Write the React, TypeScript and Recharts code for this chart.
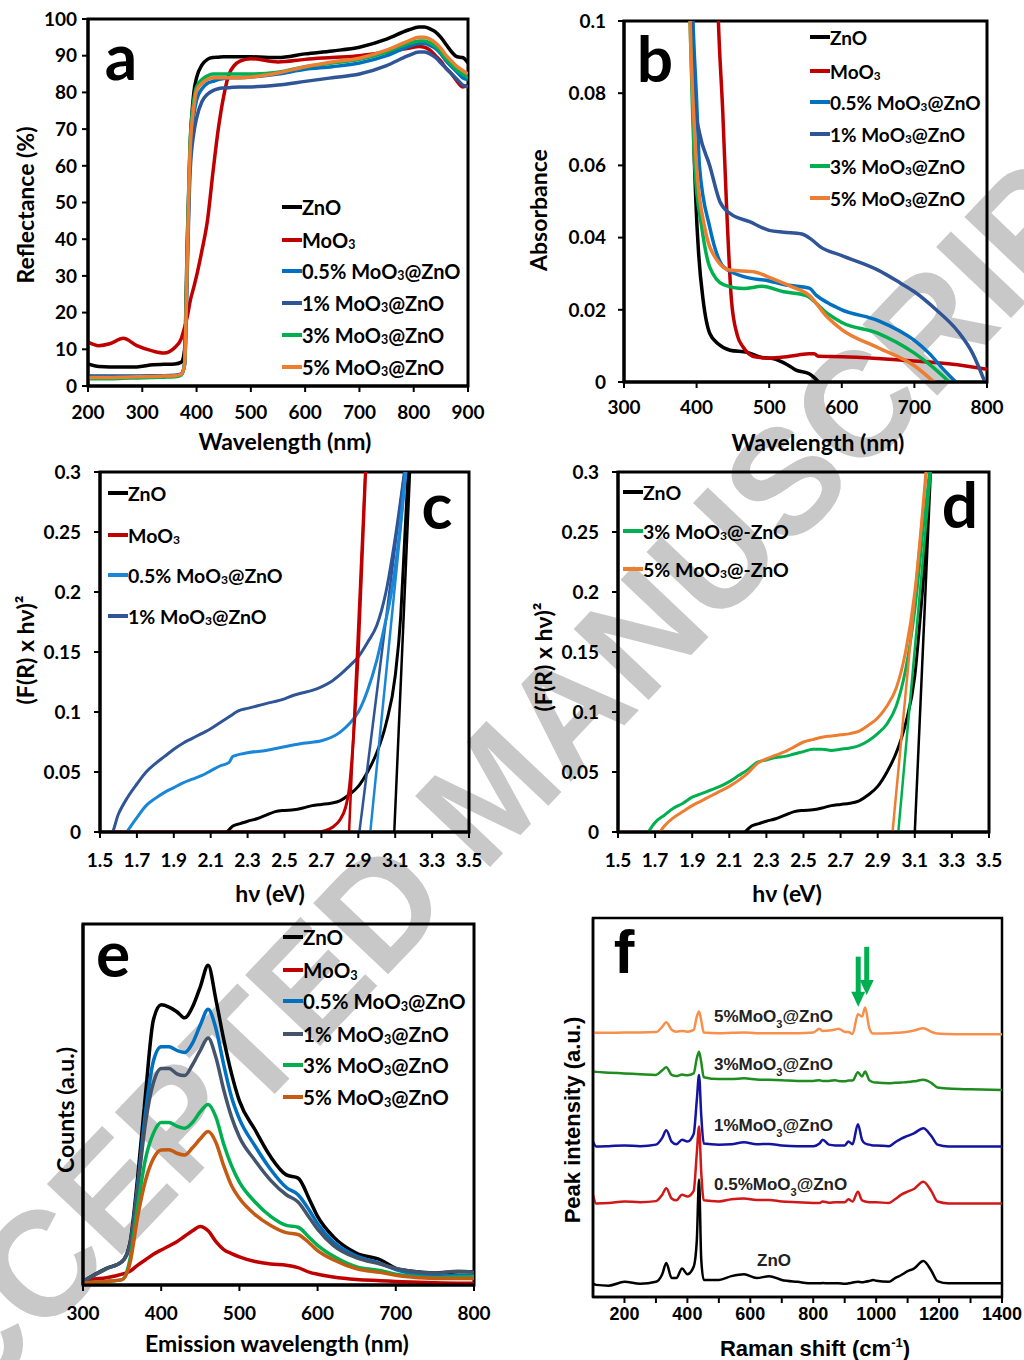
import React from "react"
import { LineChart, Line, XAxis, YAxis, ReferenceArea, ReferenceLine, ReferenceDot } from "recharts"

const LATO = "Lato, 'Open Sans', sans-serif"
const ARIAL = "'Liberation Sans', Arial, sans-serif"

const names = ["ZnO", "MoO₃", "0.5% MoO₃@ZnO", "1% MoO₃@ZnO", "3% MoO₃@ZnO", "5% MoO₃@ZnO"]
const colors = ["#000000", "#c00000", "#0070c0", "#2f5597", "#00b050", "#ed7d31"]
const colorsC = ["#000000", "#c00000", "#1a86d8", "#2f5597"]
const colorsE = ["#000000", "#c00000", "#0070c0", "#44546a", "#00b050", "#c55a11"]

// (a) reflectance
const aWavelength = [200, 220, 240, 265, 290, 320, 340, 360, 372, 378, 383, 388, 395, 400, 410, 420, 430, 440, 450, 460, 480, 500, 550, 600, 650, 700, 750, 790, 810, 820, 830, 840, 850, 860, 870, 880, 890, 900]
const aZnO = [6, 5.3, 5.2, 5.2, 5.2, 5.8, 5.9, 6, 6.5, 10, 40, 65, 80, 84, 87.5, 89, 89.5, 89.6, 89.7, 89.7, 89.7, 89.7, 89.5, 90.5, 91.3, 92.3, 94.5, 97, 97.8, 97.8, 97.3, 96.5, 95, 93, 91, 89.7, 89.5, 88]
const aMoO3 = [12, 11, 11.5, 13, 11, 9.5, 9, 10.5, 13, 16, 19, 23, 27, 30, 37, 45, 58, 70, 79, 85, 88.5, 89.2, 88.3, 89, 89.5, 90, 91, 92, 92.5, 92.3, 91.5, 90, 88.5, 86.5, 85, 83, 81.5, 82]
const a05 = [2.8, 2.7, 2.7, 2.7, 2.7, 2.8, 2.8, 2.9, 3.3, 6, 35, 62, 74, 78, 81, 82.5, 83, 83.5, 83.8, 84, 84, 84.2, 85, 86.3, 87, 88, 90, 92.5, 93.3, 93.3, 92.8, 92, 90.5, 88.5, 87, 85.5, 84, 83.5]
const a1 = [2.6, 2.6, 2.6, 2.6, 2.6, 2.7, 2.7, 2.8, 3.2, 6, 32, 58, 69, 73, 77.5, 79.5, 80.5, 81, 81.2, 81.3, 81.5, 81.5, 82, 83, 84, 85, 87.3, 90, 91, 91, 90.5, 89.5, 88, 86.5, 85, 83.5, 82, 81.5]
const a3 = [2, 2, 2, 2.1, 2.2, 2.3, 2.4, 2.5, 3, 6, 38, 66, 78, 81.5, 83.5, 84.5, 85, 85, 85, 85, 85, 85, 85.5, 87, 88, 89, 91, 93.3, 94, 94, 93.5, 92.5, 91, 89, 87.5, 86, 85, 84]
const a5 = [2.3, 2.3, 2.3, 2.4, 2.5, 2.6, 2.7, 2.8, 3.2, 6, 36, 64, 76, 80.5, 82.5, 83.5, 84, 84, 84, 84, 84, 84.2, 85.3, 87, 88.3, 89.3, 91.5, 94, 95, 95, 94.5, 93.5, 92, 90, 88.5, 87, 86, 85]
const aTicksX = [200, 300, 400, 500, 600, 700, 800, 900]
const aTicksY = [0, 10, 20, 30, 40, 50, 60, 70, 80, 90, 100]

// (b) absorbance
const bZnOX = [390, 394, 396, 399, 403, 409, 418, 430, 446, 470, 490, 505, 515, 525, 537, 555, 562, 568]
const bZnOY = [0.13, 0.1, 0.07, 0.05, 0.035, 0.0227, 0.0135, 0.0105, 0.0088, 0.0082, 0.0068, 0.0065, 0.0058, 0.0048, 0.0033, 0.0023, 0.0012, 0]
const bMoO3X = [427, 430, 436, 441, 448, 456, 464, 472, 482, 500, 520, 540, 555, 562, 568, 600, 650, 700, 750, 800]
const bMoO3Y = [0.12, 0.1, 0.075, 0.05, 0.0227, 0.013, 0.0097, 0.0078, 0.0069, 0.0066, 0.0069, 0.0075, 0.0078, 0.0078, 0.0071, 0.007, 0.0065, 0.0058, 0.005, 0.0035]
const b05X = [392, 395, 400, 404, 418, 437, 465, 500, 520, 555, 565, 580, 600, 650, 700, 720, 740, 757]
const b05Y = [0.12, 0.1, 0.078, 0.0596, 0.043, 0.0319, 0.0292, 0.028, 0.027, 0.026, 0.024, 0.022, 0.02, 0.017, 0.0115, 0.008, 0.0035, 0]
const b1X = [391, 393, 397, 404, 418, 432, 446, 473, 500, 520, 545, 558, 570, 600, 650, 680, 700, 730, 760, 780, 797]
const b1Y = [0.12, 0.1, 0.078, 0.069, 0.06, 0.05, 0.0467, 0.0444, 0.042, 0.0415, 0.041, 0.0395, 0.0375, 0.035, 0.031, 0.0275, 0.025, 0.02, 0.014, 0.008, 0]
const b3X = [389, 391, 394, 397.5, 407, 418, 437, 465, 490, 520, 550, 580, 600, 650, 700, 720, 748]
const b3Y = [0.12, 0.1, 0.078, 0.0596, 0.043, 0.0319, 0.027, 0.0259, 0.0265, 0.025, 0.024, 0.019, 0.0165, 0.0135, 0.008, 0.005, 0]
const b5X = [389, 391, 395, 400, 411, 428, 446, 480, 500, 530, 555, 580, 600, 650, 700, 727]
const b5Y = [0.12, 0.1, 0.078, 0.0596, 0.043, 0.0338, 0.031, 0.0305, 0.029, 0.0265, 0.024, 0.018, 0.0145, 0.0095, 0.0045, 0]
const bTicksX = [300, 400, 500, 600, 700, 800]
const bTicksY = [0, 0.02, 0.04, 0.06, 0.08, 0.1]

// (c) Tauc plots
const cZnOX = [2.19, 2.22, 2.26, 2.3, 2.35, 2.4, 2.45, 2.5, 2.55, 2.6, 2.65, 2.7, 2.75, 2.8, 2.85, 2.9, 2.95, 3.0, 3.05, 3.1, 3.13, 3.15, 3.17]
const cZnOY = [0, 0.005, 0.007, 0.009, 0.011, 0.014, 0.017, 0.018, 0.0185, 0.02, 0.022, 0.023, 0.024, 0.026, 0.031, 0.038, 0.05, 0.066, 0.09, 0.13, 0.18, 0.24, 0.3]
const cMoO3X = [1.56, 2.68, 2.72, 2.76, 2.8, 2.83, 2.85, 2.87, 2.9, 2.94]
const cMoO3Y = [0, 0, 0.001, 0.004, 0.01, 0.02, 0.035, 0.07, 0.15, 0.3]
const c05X = [1.645, 1.7, 1.75, 1.8, 1.85, 1.9, 1.95, 2.0, 2.05, 2.1, 2.15, 2.2, 2.22, 2.3, 2.4, 2.5, 2.6, 2.7, 2.8, 2.85, 2.9, 2.95, 3.0, 3.04, 3.08, 3.12, 3.155]
const c05Y = [0, 0.012, 0.022, 0.028, 0.033, 0.037, 0.041, 0.044, 0.047, 0.051, 0.055, 0.058, 0.063, 0.066, 0.068, 0.071, 0.074, 0.076, 0.083, 0.09, 0.1, 0.118, 0.143, 0.17, 0.2, 0.245, 0.3]
const c1X = [1.5, 1.563, 1.6, 1.65, 1.7, 1.75, 1.8, 1.85, 1.9, 1.95, 2.0, 2.05, 2.1, 2.15, 2.2, 2.25, 2.3, 2.35, 2.4, 2.5, 2.55, 2.6, 2.65, 2.7, 2.75, 2.8, 2.85, 2.9, 2.95, 3.0, 3.05, 3.1, 3.15]
const c1Y = [0, 0, 0.015, 0.029, 0.04, 0.05, 0.057, 0.063, 0.069, 0.074, 0.078, 0.082, 0.086, 0.091, 0.096, 0.101, 0.103, 0.105, 0.107, 0.111, 0.114, 0.116, 0.118, 0.121, 0.125, 0.131, 0.138, 0.146, 0.158, 0.172, 0.2, 0.245, 0.3]
// tangent lines: [x at zero, x at 0.3]
const cTanZnO = [3.095, 3.18]
const cTanMoO3 = [2.85, 2.937]
const cTan05 = [2.965, 3.16]
const cTan1 = [2.906, 3.15]
const tanY = [0, 0.3]
const eVTicks = [1.5, 1.7, 1.9, 2.1, 2.3, 2.5, 2.7, 2.9, 3.1, 3.3, 3.5]
const taucTicksY = [0, 0.05, 0.1, 0.15, 0.2, 0.25, 0.3]

// (d)
const dZnOX = [2.185, 2.22, 2.26, 2.3, 2.35, 2.4, 2.45, 2.5, 2.55, 2.6, 2.65, 2.7, 2.75, 2.8, 2.85, 2.9, 2.95, 3.0, 3.05, 3.1, 3.13, 3.16, 3.18]
const dZnOY = [0, 0.005, 0.007, 0.009, 0.011, 0.014, 0.017, 0.018, 0.0185, 0.02, 0.022, 0.023, 0.024, 0.026, 0.031, 0.038, 0.05, 0.066, 0.09, 0.13, 0.18, 0.24, 0.3]
const d3X = [1.663, 1.7, 1.75, 1.8, 1.85, 1.9, 1.95, 2.0, 2.05, 2.1, 2.15, 2.2, 2.25, 2.3, 2.35, 2.4, 2.45, 2.5, 2.55, 2.6, 2.65, 2.7, 2.75, 2.8, 2.85, 2.9, 2.95, 3.0, 3.05, 3.1, 3.15, 3.18]
const d3Y = [0, 0.008, 0.014, 0.02, 0.024, 0.029, 0.032, 0.035, 0.038, 0.042, 0.047, 0.052, 0.058, 0.06, 0.062, 0.063, 0.065, 0.067, 0.069, 0.069, 0.068, 0.069, 0.07, 0.072, 0.076, 0.082, 0.09, 0.105, 0.135, 0.185, 0.26, 0.3]
const d5X = [1.5, 1.57, 1.6, 1.726, 1.75, 1.8, 1.85, 1.9, 1.95, 2.0, 2.05, 2.1, 2.15, 2.2, 2.25, 2.3, 2.35, 2.4, 2.45, 2.5, 2.55, 2.6, 2.65, 2.7, 2.75, 2.8, 2.85, 2.9, 2.95, 3.0, 3.05, 3.1, 3.16]
const d5Y = [0, 0, null, 0, 0.005, 0.012, 0.017, 0.022, 0.026, 0.03, 0.034, 0.038, 0.043, 0.049, 0.057, 0.061, 0.064, 0.067, 0.071, 0.075, 0.077, 0.079, 0.08, 0.081, 0.082, 0.084, 0.089, 0.095, 0.105, 0.12, 0.15, 0.2, 0.3]
const dTanZnO = [3.1, 3.186]
const dTan3 = [3.011, 3.186]
const dTan5 = [2.98, 3.163]
const dNames = ["ZnO", "3% MoO₃@-ZnO", "5% MoO₃@-ZnO"]

// (e) photoluminescence
const eWavelength = [300, 310, 330, 350, 360, 370, 380, 390, 400, 410, 420, 430, 440, 450, 460, 470, 480, 490, 500, 520, 540, 560, 575, 590, 600, 620, 650, 680, 700, 720, 750, 780, 800]
const eZnO = [1, 2.3, 4.6, 6.5, 11.6, 30, 53, 73.4, 77.6, 77, 75.7, 74, 77, 82.6, 88.6, 79, 68, 58.5, 51, 43, 35.5, 30.5, 29.6, 23.5, 19, 13.4, 8.8, 7, 4.6, 3.8, 3.3, 3.7, 3.7]
const eMoO3 = [1, 1.5, 2, 3, 3.8, 5.5, 7, 8.5, 9.7, 10.8, 12, 13.5, 15, 16.2, 15, 12, 9.8, 8.7, 7.8, 6.5, 5.8, 5.5, 4.8, 3.5, 3, 2.2, 1.5, 1.2, 1, 0.8, 0.6, 0.5, 0.5]
const e05 = [1, 2.2, 4.5, 6.5, 11, 28, 48, 62, 66, 66, 65, 64.4, 67, 72, 76.4, 71, 61, 52, 46, 38.5, 32, 27, 25, 20.5, 17, 12, 8, 6, 4.3, 3.2, 2.5, 2.6, 2.6]
const e1 = [1, 2.2, 4.5, 6.5, 11, 27, 45, 56, 60, 60, 58.5, 58, 61, 65, 68.4, 63, 54, 46.5, 41, 34.5, 29, 25, 23, 18.5, 15.5, 11, 7.5, 5.8, 4.6, 3.8, 3.3, 3.8, 3.5]
const e3 = [0.5, 0.7, 1, 1.5, 7, 22, 35, 42, 45, 45, 44, 43.4, 45, 48, 50, 46.5, 39, 33, 28.5, 23, 19, 16.5, 16, 13, 11, 8, 5, 4, 3, 2.5, 2, 2.3, 2.3]
const e5 = [0.5, 0.7, 1, 1.5, 6, 19, 29, 35, 37.4, 37.5, 36.5, 36, 38, 40.5, 42.5, 39.5, 33, 27.5, 24, 19.5, 16.5, 14.5, 14, 11.5, 9.5, 7, 4.5, 3.5, 2.7, 2.2, 1.8, 1.8, 1.8]
const eTicksX = [300, 400, 500, 600, 700, 800]

// (f) Raman, stacked spectra
const fShift = [100, 110, 150, 200, 250, 300, 320, 333, 350, 365, 383, 400, 420, 430, 437, 444, 452, 500, 540, 580, 620, 660, 700, 750, 800, 820, 830, 850, 870, 880, 900, 912, 925, 942, 955, 965, 978, 990, 1000, 1040, 1060, 1080, 1100, 1120, 1150, 1175, 1195, 1230, 1300, 1400]
const fZnO = [3.5, 3.2, 3, 4, 3.5, 4, 6, 9, 5, 5, 7.5, 6, 8, 15, 31, 10, 4.5, 4.5, 5.5, 6, 5, 5.5, 4.5, 4, 3.6, 3.6, 3.7, 3.6, 3.6, 3.6, 3.5, 3.6, 3.8, 4, 3.9, 4, 4.2, 4.5, 4.3, 4, 5, 5.8, 6.8, 7.5, 9.5, 7, 4.2, 3.6, 3.6, 3.6]
const f05 = [27, 24.7, 24.8, 25.2, 25, 25.3, 27, 28.7, 26, 25.5, 27, 26.5, 28, 38, 45, 33, 25.5, 25.2, 25.8, 26, 25.6, 25.6, 25.2, 25, 24.8, 24.8, 25.2, 24.9, 25, 25, 25, 25.8, 25.2, 27.8, 25.5, 25.2, 25, 25, 25, 24.8, 25.8, 27, 27.8, 28.5, 30.4, 28, 25.2, 24.7, 24.7, 24.7]
const f1 = [41, 39.7, 39.8, 40, 39.8, 40.2, 42, 44, 41, 40.3, 41.5, 41, 43, 52, 58.6, 48, 40.5, 40.2, 40.3, 40.8, 40.3, 40.4, 40, 39.8, 39.8, 40.5, 41.5, 40.2, 40, 40, 40, 41, 40.3, 45.6, 41.5, 40.5, 40.2, 40, 40, 39.8, 40.8, 41.8, 42.5, 43.2, 44.5, 42.5, 40.2, 39.7, 39.7, 39.7]
const f3 = [59.5, 59.4, 59.2, 59, 58.8, 58.6, 59.8, 60.6, 58.6, 58.3, 58.7, 58.5, 59, 63, 64.7, 62, 58, 57.5, 57.5, 57.7, 57.4, 57.3, 57.2, 57, 57, 57.2, 57, 57, 57.2, 57, 56.9, 57.1, 57.1, 59.3, 58.2, 59.5, 57.2, 56.7, 56.6, 56.4, 56.5, 56.6, 56.7, 56.9, 57.3, 56.5, 55.3, 55, 54.8, 54.6]
const f5 = [69.8, 69.7, 69.7, 69.8, 69.8, 69.9, 71.3, 72.5, 70.5, 70, 70.2, 70, 70.5, 74, 75.3, 73, 69.8, 69.6, 69.7, 69.8, 69.6, 69.6, 69.6, 69.6, 69.8, 70.8, 70.2, 70.3, 70.6, 70.8, 70, 69.9, 69.4, 74.6, 74, 76.4, 71, 69.5, 69.5, 69.6, 69.7, 69.8, 70, 70.3, 70.9, 70, 69.5, 69.4, 69.3, 69.3]
const fColors = ["#000000", "#d01818", "#1414a0", "#1e8c1e", "#f7904c"]
const fTicksX = [200, 300, 400, 500, 600, 700, 800, 900, 1000, 1100, 1200, 1300, 1400]
// arrows marking MoO3 bands: [shift, top, tip]
const fArrows = [[943, 89.8, 76.6], [970, 92.4, 79.7]]

const pts = (xs: number[], ys: (number | null)[]) => xs.map((x, i) => ({ x, y: ys[i] }))
const table = (xs: number[], cols: number[][]) =>
  xs.map((x, i) => {
    const row: Record<string, number> = { x }
    cols.forEach((c, j) => (row["s" + j] = c[i]))
    return row
  })

const aData = table(aWavelength, [aZnO, aMoO3, a05, a1, a3, a5])
const eData = table(eWavelength, [eZnO, eMoO3, e05, e1, e3, e5])
const fData = table(fShift, [fZnO, f05, f1, f3, f5])

function sub3(label: string) {
  const parts = label.split("₃")
  return parts.map((p, i) => (
    <React.Fragment key={i}>
      {p}
      {i < parts.length - 1 && <span style={{ fontSize: "0.62em", position: "relative", top: "0.12em" }}>3</span>}
    </React.Fragment>
  ))
}

function Panel(props: {
  box: number[]
  plot: number[]
  xDomain: number[]
  xTicks: number[]
  yDomain: number[]
  yTicks?: number[]
  data?: object[]
  family?: string
  fontSize?: number
  frame?: number
  xMargin: number
  yMargin?: number
  xFmt?: (v: number) => string
  children?: React.ReactNode
}) {
  const { box, plot, xDomain, xTicks, yDomain, yTicks, data, family = LATO, fontSize = 19, frame = 3, xMargin, yMargin = 8, xFmt, children } = props
  const [bx, by, bw, bh] = box
  const [pl, pr, pt, pb] = plot
  const tick = { fontSize, fontWeight: 700, fill: "#000", fontFamily: family }
  const tickLine = { stroke: "#000", strokeWidth: 2 }
  return (
    <div style={{ position: "absolute", left: bx, top: by }}>
      <LineChart width={bw} height={bh} data={data} margin={{ top: pt - by, right: bx + bw - pr, bottom: 0, left: 0 }}>
        <XAxis type="number" dataKey="x" domain={xDomain} ticks={xTicks} interval={0} allowDataOverflow height={by + bh - pb}
          tick={tick} tickLine={tickLine} tickSize={6} tickMargin={xMargin} axisLine={{ stroke: "#000", strokeWidth: frame }} tickFormatter={xFmt} />
        <YAxis type="number" domain={yDomain} ticks={yTicks} interval={0} allowDataOverflow width={pl - bx}
          tick={yTicks ? tick : false} tickLine={yTicks ? tickLine : false} tickSize={6} tickMargin={yMargin} axisLine={{ stroke: "#000", strokeWidth: frame }} />
        <ReferenceArea x1={xDomain[0]} x2={xDomain[1]} y1={yDomain[0]} y2={yDomain[1]} fill="none" fillOpacity={0} stroke="#000" strokeWidth={frame} />
        {children}
      </LineChart>
    </div>
  )
}

function Legend({ x, ys, labels, cols, size = 20 }: { x: number; ys: number[]; labels: string[]; cols: string[]; size?: number }) {
  return (
    <>
      {labels.map((l, i) => (
        <div key={l} style={{ position: "absolute", left: x, top: ys[i] - 14, height: 28, display: "flex", alignItems: "center", fontFamily: LATO, fontWeight: 700, fontSize: size, whiteSpace: "nowrap", color: "#000" }}>
          <span style={{ width: 20, height: 4, background: cols[i], display: "inline-block" }} />
          <span>{sub3(l)}</span>
        </div>
      ))}
    </>
  )
}

function Title({ x, y, rot, size = 23, family = LATO, children }: { x: number; y: number; rot?: boolean; size?: number; family?: string; children: React.ReactNode }) {
  return (
    <div style={{ position: "absolute", left: x, top: y, transform: `translate(-50%, -50%)${rot ? " rotate(-90deg)" : ""}`, fontFamily: family, fontWeight: 700, fontSize: size, whiteSpace: "nowrap", lineHeight: 1, color: "#000" }}>
      {children}
    </div>
  )
}

const line = (key: string, color: string, w = 3.5) => (
  <Line key={key} dataKey={key} stroke={color} strokeWidth={w} dot={false} isAnimationActive={false} type="monotone" />
)
const sLine = (id: string, d: object[], color: string, w = 3.5, type: "monotone" | "linear" = "monotone") => (
  <Line key={id} data={d} dataKey="y" stroke={color} strokeWidth={w} dot={false} isAnimationActive={false} type={type} />
)

export default function App() {
  return (
    <div style={{ position: "absolute", left: 0, top: 0, width: 1024, height: 1360, background: "#fff", overflow: "hidden" }}>
      {/* watermark */}
      <svg width={1024} height={1360} style={{ position: "absolute", left: 0, top: 0 }}>
        <text x={0} y={53} textAnchor="middle" transform="translate(490,790) rotate(-46.5)" fontFamily={ARIAL} fontWeight={700} fontSize={150}
          fill="#c8c8c8" textLength={1843} lengthAdjust="spacingAndGlyphs">
          ACCEPTED MANUSCRIPT
        </text>
      </svg>

      {/* a */}
      <Panel box={[0, 0, 500, 460]} plot={[88, 468, 19, 386]} xDomain={[200, 900]} xTicks={aTicksX} yDomain={[0, 100]} yTicks={aTicksY} data={aData} xMargin={14} yMargin={5}>
        {colors.map((c, i) => line("s" + i, c))}
      </Panel>
      <Legend x={282} ys={[207, 240, 271, 303, 335, 367]} labels={names} cols={colors} />
      <Title x={25} y={205} rot>Reflectance (%)</Title>
      <Title x={285} y={441}>Wavelength (nm)</Title>
      <Title x={121} y={56} size={64}>a</Title>

      {/* b */}
      <Panel box={[500, 0, 524, 460]} plot={[624, 987, 21, 382]} xDomain={[300, 800]} xTicks={bTicksX} yDomain={[0, 0.1]} yTicks={bTicksY} xMargin={13} yMargin={12}>
        {sLine("bz", pts(bZnOX, bZnOY), colors[0])}
        {sLine("bm", pts(bMoO3X, bMoO3Y), colors[1])}
        {sLine("b05", pts(b05X, b05Y), colors[2])}
        {sLine("b1", pts(b1X, b1Y), colors[3])}
        {sLine("b3", pts(b3X, b3Y), colors[4])}
        {sLine("b5", pts(b5X, b5Y), colors[5])}
      </Panel>
      <Legend x={810} ys={[37, 71, 102, 134, 166, 198]} labels={names} cols={colors} size={19} />
      <Title x={538} y={210} rot>Absorbance</Title>
      <Title x={818} y={442}>Wavelength (nm)</Title>
      <Title x={655} y={58} size={64}>b</Title>

      {/* c */}
      <Panel box={[0, 460, 500, 450]} plot={[100, 469, 472, 832]} xDomain={[1.5, 3.5]} xTicks={eVTicks} yDomain={[0, 0.3]} yTicks={taucTicksY} xMargin={16} yMargin={13}>
        {sLine("cz", pts(cZnOX, cZnOY), colorsC[0], 3)}
        {sLine("czt", pts(cTanZnO, tanY), colorsC[0], 2.5, "linear")}
        {sLine("c1", pts(c1X, c1Y), colorsC[3], 3)}
        {sLine("c1t", pts(cTan1, tanY), colorsC[3], 2.5, "linear")}
        {sLine("c05", pts(c05X, c05Y), colorsC[2], 3)}
        {sLine("c05t", pts(cTan05, tanY), colorsC[2], 2.5, "linear")}
        {sLine("cm", pts(cMoO3X, cMoO3Y), colorsC[1], 3)}
        {sLine("cmt", pts(cTanMoO3, tanY), colorsC[1], 2.5, "linear")}
      </Panel>
      <Legend x={108} ys={[493, 535, 575, 616]} labels={names.slice(0, 4)} cols={colorsC} size={19.5} />
      <Title x={25} y={650} rot>(F(R) x hν)²</Title>
      <Title x={270} y={893}>hν (eV)</Title>
      <Title x={437} y={505} size={64}>c</Title>

      {/* d */}
      <Panel box={[500, 460, 524, 450]} plot={[618, 989, 472, 832]} xDomain={[1.5, 3.5]} xTicks={eVTicks} yDomain={[0, 0.3]} yTicks={taucTicksY} xMargin={16} yMargin={13}>
        {sLine("dz", pts(dZnOX, dZnOY), colors[0], 3)}
        {sLine("dzt", pts(dTanZnO, tanY), colors[0], 2.5, "linear")}
        {sLine("d3", pts(d3X, d3Y), colors[4], 3)}
        {sLine("d3t", pts(dTan3, tanY), colors[4], 2.5, "linear")}
        {sLine("d5", pts(d5X, d5Y), colors[5], 3)}
        {sLine("d5t", pts(dTan5, tanY), colors[5], 2.5, "linear")}
      </Panel>
      <Legend x={623} ys={[492, 531, 569]} labels={dNames} cols={[colors[0], colors[4], colors[5]]} size={19.5} />
      <Title x={543} y={657} rot>(F(R) x hν)²</Title>
      <Title x={787} y={893}>hν (eV)</Title>
      <Title x={960} y={504} size={64}>d</Title>

      {/* e */}
      <Panel box={[0, 910, 500, 450]} plot={[83, 474, 924, 1285]} xDomain={[300, 800]} xTicks={eTicksX} yDomain={[0, 100]} data={eData} xMargin={16}>
        {colorsE.map((c, i) => line("s" + i, c))}
      </Panel>
      <Legend x={283} ys={[937, 970, 1001, 1034, 1065, 1097]} labels={names} cols={colorsE} size={20.5} />
      <Title x={65} y={1110} rot>Counts (a.u.)</Title>
      <Title x={277} y={1343}>Emission wavelength (nm)</Title>
      <Title x={113} y={953} size={64}>e</Title>

      {/* f */}
      <Panel box={[500, 910, 524, 450]} plot={[593, 1002, 918, 1297]} xDomain={[100, 1400]} xTicks={fTicksX} yDomain={[0, 100]} data={fData}
        family={ARIAL} fontSize={18} frame={2.5} xMargin={4} xFmt={(v) => (v % 200 === 0 ? String(v) : "")}>
        {fColors.map((c, i) => line("s" + i, c, 2.5))}
        {fArrows.map(([x, top, tip], i) => (
          <ReferenceLine key={"ar" + i} segment={[{ x, y: top }, { x, y: tip + 3 }]} stroke="#00b050" strokeWidth={5} />
        ))}
        {fArrows.map(([x, , tip], i) => (
          <ReferenceDot key={"ah" + i} x={x} y={tip} r={1}
            shape={(p: { cx: number; cy: number }) => (
              <polygon points={`${p.cx - 7},${p.cy - 15} ${p.cx + 7},${p.cy - 15} ${p.cx},${p.cy}`} fill="#00b050" />
            )} />
        ))}
      </Panel>
      {[["5%MoO", "@ZnO", 714, 1017], ["3%MoO", "@ZnO", 714, 1065], ["1%MoO", "@ZnO", 714, 1126], ["0.5%MoO", "@ZnO", 714, 1185]].map(([a, b, x, y]) => (
        <div key={a as string} style={{ position: "absolute", left: x as number, top: (y as number) - 11, fontFamily: ARIAL, fontWeight: 700, fontSize: 17, color: "#222", whiteSpace: "nowrap", lineHeight: "22px" }}>
          {a}<span style={{ fontSize: 11, position: "relative", top: 6 }}>3</span>{b}
        </div>
      ))}
      <div style={{ position: "absolute", left: 757, top: 1250, fontFamily: ARIAL, fontWeight: 700, fontSize: 17, color: "#222", lineHeight: "22px" }}>ZnO</div>
      <Title x={573} y={1120} rot size={22} family={ARIAL}>Peak intensity (a.u.)</Title>
      <Title x={815} y={1348} size={22} family={ARIAL}>
        Raman shift (cm<sup style={{ fontSize: 13 }}>-1</sup>)
      </Title>
      <Title x={624} y={952} size={62} family={ARIAL}>f</Title>
    </div>
  )
}
